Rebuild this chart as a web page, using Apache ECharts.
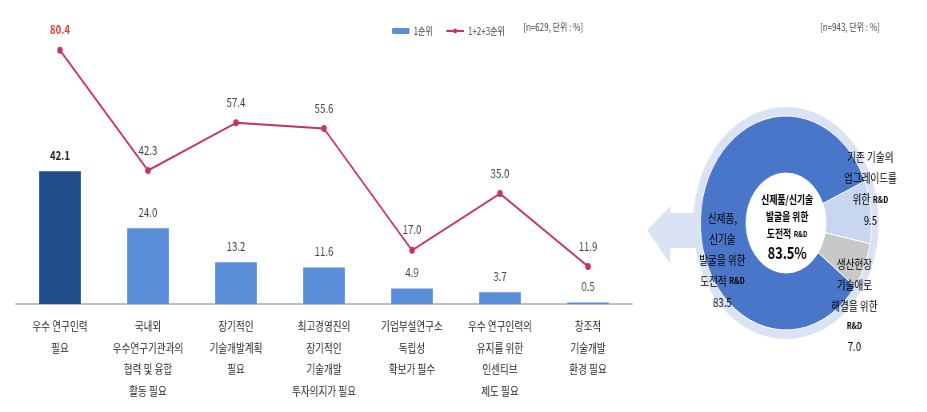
<!DOCTYPE html>
<html><head><meta charset="utf-8">
<script src="https://cdn.jsdelivr.net/npm/echarts@6/dist/echarts.min.js"></script>
<style>
html,body{margin:0;padding:0;background:#fff;overflow:hidden;width:927px;height:412px;}
#c{width:1159px;height:412px;transform:scaleX(0.8);transform-origin:0 0;}
</style></head>
<body><div id="c"></div>
<script>
var categories = ['우수 연구인력\n필요', '국내외\n우수연구기관과의\n협력 및 융합\n활동 필요', '장기적인\n기술개발계획\n필요', '최고경영진의\n장기적인\n기술개발\n투자의지가 필요', '기업부설연구소\n독립성\n확보가 필수', '우수 연구인력의\n유지를 위한\n인센티브\n제도 필요', '창조적\n기술개발\n환경 필요'];
var rank1 = [42.1, 24.0, 13.2, 11.6, 4.9, 3.7, 0.5];
var rank123 = [80.4, 42.3, 57.4, 55.6, 17.0, 35.0, 11.9];
var seriesNames = ['1순위', '1+2+3순위'];
var noteLeft = '[n=629, 단위 : %]';
var noteRight = '[n=943, 단위 : %]';
var pieLines = [
  ['기존 기술의', '업그레이드를', '위한'],
  ['생산현장', '기술애로', '해결을 위한'],
  ['신제품,', '신기술', '발굴을 위한', '도전적']
];
var pieValues = [9.5, 7.0, 83.5];
var pieColors = ['#C9D6EF', '#C8C8C8', '#4A76C9'];
var centerLines = ['신제품/신기술', '발굴을 위한', '도전적'];

var FONT = '"Noto Sans CJK KR", "Noto Sans", sans-serif';
var chart = echarts.init(document.getElementById('c'));

function pieLabel(i, rdSeparate) {
  var L = pieLines[i];
  var s = [];
  for (var k = 0; k < L.length - 1; k++) s.push('{t|' + L[k] + '}');
  if (rdSeparate) { s.push('{t|' + L[L.length - 1] + '}'); s.push('{s|R&D}'); }
  else s.push('{t|' + L[L.length - 1] + '} {s|R&D}');
  s.push('{t|' + pieValues[i].toFixed(1) + '}');
  return s.join('\n');
}
var pieRich = {
  t: {fontSize: 12, color: '#3a3a3a', fontFamily: FONT, lineHeight: 21},
  s: {fontSize: 9, color: '#3a3a3a', fontFamily: FONT, fontWeight: 'bold', lineHeight: 19}
};

var option = {
  animation: false,
  backgroundColor: '#fff',
  textStyle: {fontFamily: FONT},
  legend: {
    left: 485, top: 21, itemGap: 16, itemWidth: 22, itemHeight: 6,
    textStyle: {fontSize: 10, color: '#444', fontFamily: FONT},
    data: [seriesNames[0], seriesNames[1]]
  },
  grid: {left: 20, top: 20, width: 770, bottom: 108, containLabel: false},
  xAxis: {
    type: 'category', data: categories,
    axisLine: {lineStyle: {color: '#BFBFBF', width: 2}},
    axisTick: {show: false},
    axisLabel: {interval: 0, fontSize: 12, lineHeight: 21.5, color: '#2a2a2a', margin: 12, fontFamily: FONT}
  },
  yAxis: {type: 'value', min: 0, max: 90, show: false, splitLine: {show: false}},
  series: [
    {
      name: seriesNames[0], type: 'bar', barWidth: 52,
      itemStyle: {color: '#5A8ED8'},
      data: rank1.map(function (v, i) {
        return i === 0 ? {value: v, itemStyle: {color: '#1F4E8A'}, label: {fontWeight: 'bold', color: '#222'}} : v;
      }),
      label: {show: true, position: 'top', distance: 10, fontSize: 12, color: '#404040', fontFamily: FONT,
        formatter: function (p) { return p.value.toFixed(1); }}
    },
    {
      name: seriesNames[1], type: 'line', symbol: 'circle', symbolSize: 7,
      lineStyle: {color: '#C8325E', width: 2}, itemStyle: {color: '#C8325E'},
      data: rank123.map(function (v, i) {
        return i === 0 ? {value: v, label: {fontWeight: 'bold', color: '#E03A2E'}} : v;
      }),
      label: {show: true, position: 'top', distance: 11, fontSize: 12, color: '#404040', fontFamily: FONT,
        formatter: function (p) { return p.value.toFixed(1); }}
    },
    {
      type: 'pie', silent: true, center: [982.5, 223], radius: [98, 116], z: 1,
      label: {show: false}, labelLine: {show: false},
      data: [{value: 1, itemStyle: {color: '#DAE3F3'}}]
    },
    {
      type: 'pie', center: [982.5, 223], radius: [50, 107], startAngle: 23, clockwise: true, z: 3,
      label: {show: false}, labelLine: {show: false},
      itemStyle: {borderColor: '#fff', borderWidth: 1},
      data: pieValues.map(function (v, i) { return {value: v, name: pieLines[i].join(' '), itemStyle: {color: pieColors[i]}}; })
    }
  ],
  graphic: [
    {type: 'text', left: 654, top: 22, z: 10, style: {text: noteLeft, fill: '#444', font: '10px ' + FONT}},
    {type: 'text', left: 1025, top: 22, z: 10, style: {text: noteRight, fill: '#444', font: '10px ' + FONT}},
    {type: 'polygon', z: 0, shape: {points: [[809, 230], [838, 206], [838, 213], [880, 213], [880, 248], [838, 248], [838, 264]]},
      style: {fill: '#DAE3F3'}},
    {type: 'text', x: 903, y: 260, z: 100, style: {text: pieLabel(2, false), rich: pieRich, align: 'center', verticalAlign: 'middle'}},
    {type: 'text', x: 1088, y: 189, z: 100, style: {text: pieLabel(0, false), rich: pieRich, align: 'center', verticalAlign: 'middle'}},
    {type: 'text', x: 1068, y: 305, z: 100, style: {text: pieLabel(1, true), rich: pieRich, align: 'center', verticalAlign: 'middle'}},
    {type: 'text', x: 984, y: 227, z: 100, style: {
      text: '{b|' + centerLines[0] + '}\n{b|' + centerLines[1] + '}\n{b|' + centerLines[2] + '} {s|R&D}\n{big|' + pieValues[2].toFixed(1) + '%}',
      align: 'center', verticalAlign: 'middle',
      rich: {
        b: {fontSize: 11, fontWeight: 'bold', color: '#222', fontFamily: FONT, lineHeight: 17},
        s: {fontSize: 8, fontWeight: 'bold', color: '#222', fontFamily: FONT, lineHeight: 17},
        big: {fontSize: 16, fontWeight: 'bold', color: '#111', fontFamily: FONT, lineHeight: 20}
      }}}
  ]
};
chart.setOption(option);
</script></body></html>
